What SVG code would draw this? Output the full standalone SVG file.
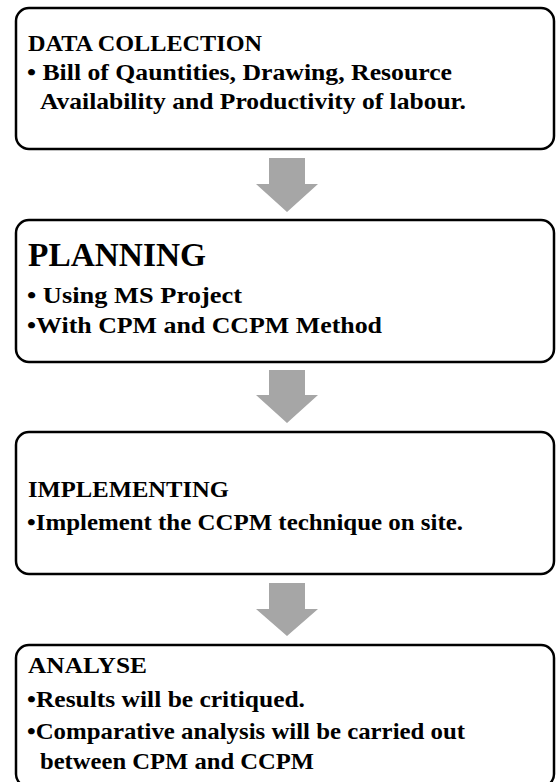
<svg xmlns="http://www.w3.org/2000/svg" width="556" height="782" viewBox="0 0 556 782">
<style>
.box{fill:#fff;stroke:#000;stroke-width:2.5}
.t{font-family:"Liberation Serif","Times New Roman",serif;font-weight:bold;fill:#000}
.h{font-size:23px}
.hb{font-size:34px}
.b{font-size:24px}
.arr{fill:#a6a6a6}
</style>
<rect width="556" height="782" fill="#fff"/>
<g id="connectors">
<polygon class="arr" points="269,158 305,158 305,184 318,184 287,212 256,184 269,184"/>
<polygon class="arr" points="269,370 305,370 305,395 318,395 287,423 256,395 269,395"/>
<polygon class="arr" points="269,583 305,583 305,609 318,609 287,636 256,609 269,609"/>
</g>
<g id="data-collection">
<rect class="box" x="16" y="8" width="538" height="141" rx="13"/>
<text class="t h" x="28" y="51" textLength="234" lengthAdjust="spacingAndGlyphs">DATA COLLECTION</text>
<text class="t b" x="27" y="80" textLength="425" lengthAdjust="spacingAndGlyphs">• Bill of Qauntities, Drawing, Resource</text>
<text class="t b" x="40" y="109" textLength="426" lengthAdjust="spacingAndGlyphs">Availability and Productivity of labour.</text>
</g>
<g id="planning">
<rect class="box" x="16" y="220" width="538" height="142" rx="13"/>
<text class="t hb" x="28" y="266" textLength="178" lengthAdjust="spacingAndGlyphs">PLANNING</text>
<text class="t b" x="27" y="303" textLength="215" lengthAdjust="spacingAndGlyphs">• Using MS Project</text>
<text class="t b" x="27" y="333" textLength="355" lengthAdjust="spacingAndGlyphs">•With CPM and CCPM Method</text>
</g>
<g id="implementing">
<rect class="box" x="16" y="432" width="538" height="142" rx="13"/>
<text class="t h" x="28" y="497" textLength="201" lengthAdjust="spacingAndGlyphs">IMPLEMENTING</text>
<text class="t b" x="27" y="530" textLength="436" lengthAdjust="spacingAndGlyphs">•Implement the CCPM technique on site.</text>
</g>
<g id="analyse">
<rect class="box" x="16" y="645" width="538" height="142" rx="13"/>
<text class="t h" x="28" y="673" textLength="119" lengthAdjust="spacingAndGlyphs">ANALYSE</text>
<text class="t b" x="27" y="707" textLength="278" lengthAdjust="spacingAndGlyphs">•Results will be critiqued.</text>
<text class="t b" x="27" y="739" textLength="438" lengthAdjust="spacingAndGlyphs">•Comparative analysis will be carried out</text>
<text class="t b" x="40" y="769" textLength="274" lengthAdjust="spacingAndGlyphs">between CPM and CCPM</text>
</g>
</svg>
